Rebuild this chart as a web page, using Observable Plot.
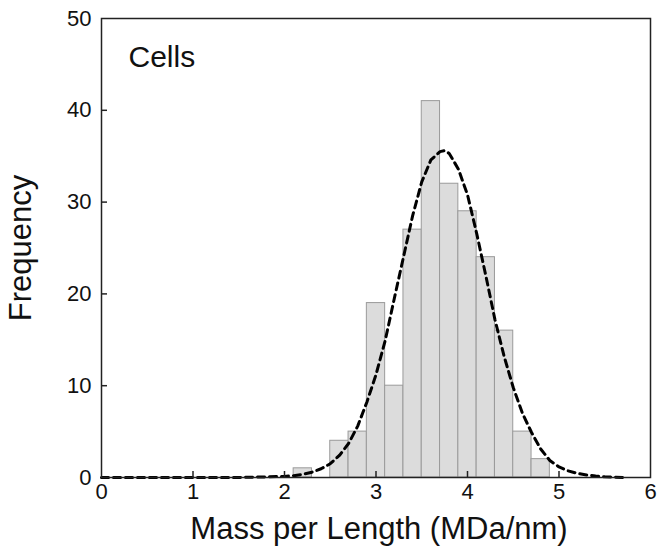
<!DOCTYPE html>
<html>
<head>
<meta charset="utf-8">
<script src="https://cdn.jsdelivr.net/npm/d3@7"></script>
<script src="https://cdn.jsdelivr.net/npm/@observablehq/plot@0.6"></script>
<style>
  body { margin: 0; background: #fff; }
</style>
</head>
<body>
<div id="chart"></div>
<script>
// Histogram bins (Mass per Length, MDa/nm) and counts
const binStart = [2.1, 2.3, 2.5, 2.7, 2.9, 3.1, 3.3, 3.5, 3.7, 3.9, 4.1, 4.3, 4.5, 4.7];
const binEnd   = [2.3, 2.5, 2.7, 2.9, 3.1, 3.3, 3.5, 3.7, 3.9, 4.1, 4.3, 4.5, 4.7, 4.9];
const counts   = [1, 0, 4, 5, 19, 10, 27, 41, 32, 29, 24, 16, 5, 2];

// Fitted curve, values
const fitX = [0, 1.5, 2.0, 2.1, 2.2, 2.3, 2.4, 2.5, 2.6, 2.7, 2.8, 2.9, 3.0, 3.1, 3.2, 3.3, 3.4, 3.5, 3.6, 3.7, 3.75, 3.8, 3.9, 4.0, 4.1, 4.2, 4.3, 4.4, 4.5, 4.6, 4.7, 4.8, 4.9, 5.0, 5.1, 5.2, 5.3, 5.4, 5.5, 5.6, 5.73];
const fitY = [0, 0, 0.12, 0.2, 0.35, 0.58, 0.95, 1.5, 2.4, 3.7, 5.6, 8.2, 11.2, 14.9, 19.5, 24.0, 28.5, 32.2, 34.6, 35.5, 35.6, 35.3, 33.6, 30.8, 26.6, 22.0, 17.2, 13.2, 9.8, 7.0, 4.9, 3.1, 1.85, 1.15, 0.72, 0.45, 0.28, 0.16, 0.08, 0.03, 0.0];

const xTicks = [0, 1, 2, 3, 4, 5, 6];
const xInnerTicks = [1, 2, 3, 4, 5];
const yTicks = [0, 10, 20, 30, 40, 50];
const yInnerTicks = [10, 20, 30, 40];

const xLabel = "Mass per Length (MDa/nm)";
const yLabel = "Frequency";
const panelLabel = "Cells";

const bins = binStart.map((s, i) => ({x1: s, x2: binEnd[i], count: counts[i]}));
const fit = fitX.map((x, i) => ({x, y: fitY[i]}));

const W = 662, H = 551, mL = 101, mR = 12, mT = 18, mB = 74;
const tickLen = 6;
const frameW = W - mL - mR, frameH = H - mT - mB;

const chart = Plot.plot({
  width: W,
  height: H,
  marginLeft: mL,
  marginRight: mR,
  marginTop: mT,
  marginBottom: mB,
  style: {fontFamily: "'Liberation Sans', Arial, sans-serif", color: "#111", background: "#fff"},
  x: {domain: [0, 6]},
  y: {domain: [0, 50]},
  marks: [
    Plot.rectY(bins, {filter: d => d.count > 0, x1: "x1", x2: "x2", y: "count", fill: "#dcdcdc", stroke: "#9a9a9a", strokeWidth: 1}),
    Plot.line(fit, {x: "x", y: "y", stroke: "#000", strokeWidth: 3, strokeDasharray: "7,5"}),
    Plot.frame({stroke: "#222", strokeWidth: 1.5}),
    Plot.tickX(xInnerTicks, {x: d => d, insetTop: frameH - tickLen, stroke: "#222", strokeWidth: 1.5}),
    Plot.tickY(yInnerTicks, {y: d => d, insetRight: frameW - tickLen, stroke: "#222", strokeWidth: 1.5}),
    Plot.axisX({ticks: xTicks, tickSize: 0, tickPadding: 6, fontSize: 22, label: null, fill: "#111", tickFormat: d => String(d)}),
    Plot.axisY({ticks: yTicks, tickSize: 0, tickPadding: 10, fontSize: 22, label: null, fill: "#111", tickFormat: d => String(d)}),
    Plot.text([panelLabel], {frameAnchor: "top-left", dx: 27, dy: 27, textAnchor: "start", lineAnchor: "top", fontSize: 30, fill: "#111"}),
    Plot.text([xLabel], {frameAnchor: "bottom", dx: 3, dy: 39, textAnchor: "middle", lineAnchor: "top", fontSize: 31, fill: "#111"}),
    Plot.text([yLabel], {frameAnchor: "left", dx: -80, rotate: -90, textAnchor: "middle", lineAnchor: "middle", fontSize: 31, fill: "#111"})
  ]
});
document.getElementById("chart").appendChild(chart);
</script>
</body>
</html>
